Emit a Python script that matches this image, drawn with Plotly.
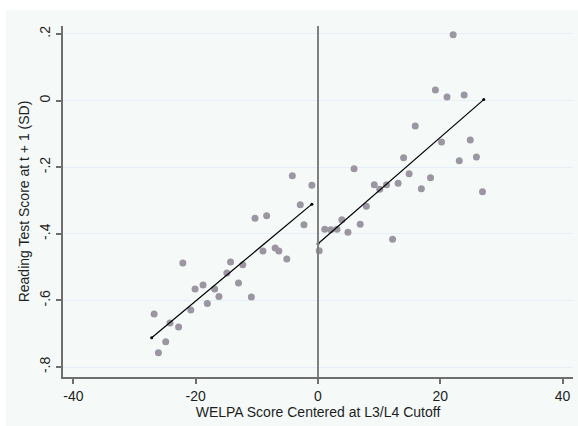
import plotly.graph_objects as go

# Binned scatter: left of cutoff
left_x = [-26.8, -26.1, -24.9, -24.2, -22.8, -22.1, -20.8, -20.1, -18.8, -18.1,
          -16.9, -16.2, -14.9, -14.3, -13.0, -12.3, -10.9, -10.3, -9.0, -8.4,
          -7.0, -6.4, -5.1, -4.2, -2.9, -2.3, -1.0]
left_y = [-0.641, -0.757, -0.724, -0.668, -0.680, -0.488, -0.629, -0.566, -0.554, -0.609,
          -0.566, -0.588, -0.518, -0.485, -0.548, -0.493, -0.590, -0.353, -0.452, -0.346,
          -0.443, -0.452, -0.476, -0.226, -0.313, -0.373, -0.254]

# Binned scatter: right of cutoff
right_x = [0.2, 1.1, 2.1, 3.1, 3.9, 4.9, 5.9, 6.9, 7.9, 9.2,
           10.1, 11.2, 12.2, 13.1, 14.0, 14.9, 15.9, 16.9, 18.4, 19.2,
           20.2, 21.1, 22.1, 23.1, 23.9, 24.9, 25.9, 26.9]
right_y = [-0.451, -0.386, -0.388, -0.386, -0.358, -0.395, -0.205, -0.371, -0.317, -0.253,
           -0.266, -0.253, -0.416, -0.248, -0.172, -0.220, -0.076, -0.265, -0.232, 0.032,
           -0.124, 0.011, 0.198, -0.181, 0.017, -0.118, -0.169, -0.274]

# Fitted lines (endpoints)
left_fit_x = [-27.2, -1.0]
left_fit_y = [-0.712, -0.311]
right_fit_x = [0.0, 27.1]
right_fit_y = [-0.430, 0.003]

x_ticks = [-40, -20, 0, 20, 40]
x_tick_labels = ["-40", "-20", "0", "20", "40"]
y_ticks = [-0.8, -0.6, -0.4, -0.2, 0, 0.2]
y_tick_labels = ["-.8", "-.6", "-.4", "-.2", "0", ".2"]

FONT = "Liberation Sans, Arial, sans-serif"
MARKER = "#9b96a1"
AXIS = "#6e6e6e"
BG = "#f5faf8"
TXT = "#1e1e1e"

fig = go.Figure()

for xs, ys in [(left_x, left_y), (right_x, right_y)]:
    fig.add_trace(go.Scatter(x=xs, y=ys, mode="markers",
                             marker=dict(color=MARKER, size=7, line=dict(width=0)),
                             showlegend=False, hoverinfo="x+y"))

for xs, ys in [(left_fit_x, left_fit_y), (right_fit_x, right_fit_y)]:
    fig.add_trace(go.Scatter(x=xs, y=ys, mode="lines+markers",
                             line=dict(color="black", width=1.2),
                             marker=dict(color="black", size=3),
                             showlegend=False))

# vertical cutoff line
fig.add_shape(type="line", x0=0, x1=0, xref="x", y0=0, y1=1, yref="paper",
              line=dict(color="#808080", width=2), layer="above")

# graph region background (white strip at top/left)
fig.add_shape(type="rect", xref="paper", yref="paper",
              x0=-57/510, x1=1 + 5/510, y0=-49.3/350.7, y1=1 + 16/350.7,
              fillcolor=BG, line=dict(width=0), layer="below")

fig.update_layout(
    width=578, height=426,
    margin=dict(l=63, r=5, t=26, b=49),
    paper_bgcolor="white",
    plot_bgcolor=BG,
    font=dict(family=FONT, size=14, color=TXT),
    xaxis=dict(range=[-41.7, 41.7], tickmode="array", tickvals=x_ticks, ticktext=x_tick_labels,
               showgrid=False, zeroline=False, showline=True, linecolor=AXIS, linewidth=2,
               ticks="outside", ticklen=5, tickcolor=AXIS, tickwidth=1.5,
               tickfont=dict(size=14, color=TXT),
               title=dict(text="WELPA Score Centered at L3/L4 Cutoff", standoff=3,
                          font=dict(size=14, color=TXT))),
    yaxis=dict(range=[-0.83, 0.224], tickmode="array", tickvals=y_ticks, ticktext=y_tick_labels,
               showgrid=True, gridcolor="#e6eff6", gridwidth=1, zeroline=False,
               showline=True, linecolor=AXIS, linewidth=2,
               ticks="outside", ticklen=5, tickcolor=AXIS, tickwidth=1.5, tickangle=-90,
               tickfont=dict(size=14, color=TXT),
               title=dict(text="Reading Test Score at t + 1 (SD)", standoff=5,
                          font=dict(size=14, color=TXT))),
)

fig.write_html("out.html")
